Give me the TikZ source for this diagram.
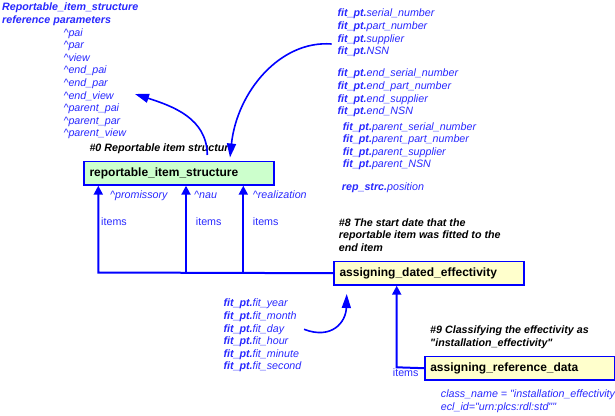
\documentclass[tikz,border=0pt]{standalone}
\usepackage{fontspec}
\setmainfont{Liberation Sans}
\usetikzlibrary{arrows.meta,positioning}

\definecolor{textblue}{RGB}{40,40,255}
\definecolor{clsgreen}{RGB}{204,255,204}
\definecolor{clsyellow}{RGB}{255,255,204}
\newcommand{\fitpt}{\textbf{fit\_pt.}}
\newcommand{\refhat}{\textasciicircum}
\newcommand{\qq}{\textquotedbl}

\begin{document}
\begin{tikzpicture}[x=1pt,y=-1pt,
entity/.style={rectangle, draw=blue, line width=1.5pt, inner xsep=5.5pt, inner ysep=0pt, text width=179pt, minimum height=23.5pt, anchor=north west, font=\fontsize{12}{14}\selectfont\bfseries},
attr/.style={anchor=base west, inner sep=0pt, align=left, text=textblue, font=\fontsize{10.7}{12.6}\selectfont\itshape},
note/.style={anchor=base west, inner sep=0pt, align=left, font=\fontsize{10.7}{12.6}\selectfont\bfseries\itshape},
block/.style={anchor=north west},
role/.style={anchor=base west, inner sep=0pt, text=textblue, font=\fontsize{10.7}{12.6}\selectfont},
link/.style={draw=blue, line width=2pt},
supertype/.style={link, -{Triangle[length=9pt,width=9pt]}},
ref/.style={draw=blue, line width=1.6pt, -{Triangle[length=14pt,width=9pt]}},
]
\useasboundingbox (0,0) rectangle (615,415);

\node at (2,2.9) [note, block, text=textblue](title){Reportable\_item\_structure\\reference parameters};
\node at (63.3,28.2) [attr, block](params){\refhat pai\\\refhat par\\\refhat view\\\refhat end\_pai\\\refhat end\_par\\\refhat end\_view\\\refhat parent\_pai\\\refhat parent\_par\\\refhat parent\_view};

\node at (337.3,8.9) [attr, block](fit_part){\fitpt serial\_number\\\fitpt part\_number\\\fitpt supplier\\\fitpt NSN};
\node at (337.3,68.9) [attr, block](end_part){\fitpt end\_serial\_number\\\fitpt end\_part\_number\\\fitpt end\_supplier\\\fitpt end\_NSN};
\node at (342.7,122.2) [attr, block](parent_part){\fitpt parent\_serial\_number\\\fitpt parent\_part\_number\\\fitpt parent\_supplier\\\fitpt parent\_NSN};
\node at (341.7,190.7) [attr](position){\textbf{rep\_strc.}position};

\node at (89.3,151) [note](ris_note){\#0 Reportable item structure};
\node at (83.3,160.7) [entity, fill=clsgreen](ris){reportable\_item\_structure};

\node at (110,198.3) [attr](promissory){\refhat promissory};
\node at (194,198.3) [attr](nau){\refhat nau};
\node at (252.7,198.3) [attr](realization){\refhat realization};
\node at (101,225) [role](items_promissory){items};
\node at (195.7,225) [role](items_nau){items};
\node at (252.7,225) [role](items_realization){items};

\node at (338.7,218.2) [note, block](ade_note){\#8 The start date that the\\reportable item was fitted to the\\end item};
\node at (333.3,260.7) [entity, fill=clsyellow](ade){assigning\_dated\_effectivity};

\node at (223.3,298.9) [attr, block](fit_time){\fitpt fit\_year\\\fitpt fit\_month\\\fitpt fit\_day\\\fitpt fit\_hour\\\fitpt fit\_minute\\\fitpt fit\_second};

\node at (430,325.5) [note, block](ard_note){\#9 Classifying the effectivity as\\\qq installation\_effectivity\qq};
\node at (424,355.7) [entity, fill=clsyellow](ard){assigning\_reference\_data};
\node at (392.7,376) [role](items_ard){items};
\node at (440.7,389.5) [attr, block](class_name){class\_name = \qq installation\_effectivity\\ecl\_id=\qq urn:plcs:rdl:std\qq\qq};

% items of reportable_item_structure
\coordinate (j1) at (98.3,272.5);
\coordinate (j2) at (186,272.5);
\coordinate (j3) at (243.3,272.5);
\draw[supertype] (ade.west) -- (j1) -- (j1 |- ris.south);
\draw[supertype] (j2) -- (j2 |- ris.south);
\draw[supertype] (j3) -- (j3 |- ris.south);

\coordinate (k) at (396.7,367.3);
\draw[supertype] (ard.west) -- (k) -- (k |- ade.south);

% reference parameters
\coordinate (fit_src) at (331.7,44);
\coordinate (ris_top) at (230,157.5);
\draw[ref] (fit_src) .. controls (280,40) and (237,92) .. (ris_top);

\coordinate (view_src) at (207.3,155);
\coordinate (view_end) at (135,94);
\draw[ref] (view_src) .. controls (207,118) and (172,106) .. (view_end);

\coordinate (time_src) at (304,329.3);
\coordinate (ade_below) at (346.7,294);
\draw[ref] (time_src) .. controls (332,340) and (346,322) .. (ade_below);

\end{tikzpicture}
\end{document}
